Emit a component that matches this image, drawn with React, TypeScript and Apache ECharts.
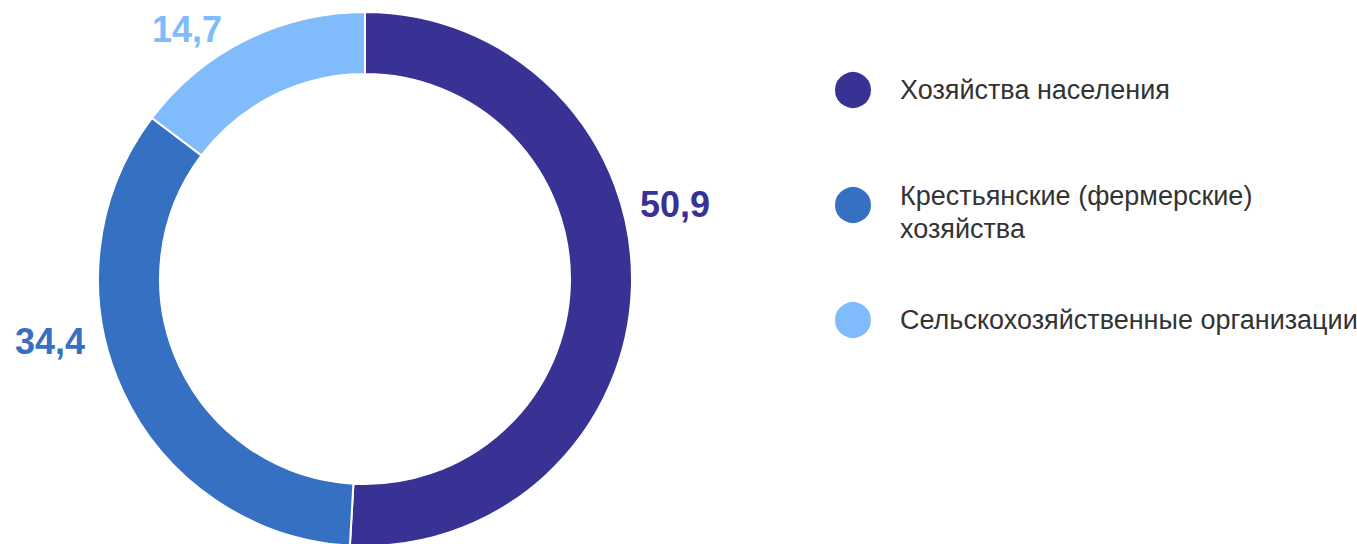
import React, { useEffect, useRef } from "react";
import * as echarts from "echarts";

const categories = [
  "Хозяйства населения",
  "Крестьянские (фермерские) хозяйства",
  "Сельскохозяйственные организации",
];
const values = [50.9, 34.4, 14.7];
const colors = ["#373294", "#3670C3", "#80BBFB"];
const labelPositions = [
  [675, 204],
  [50, 341],
  [187, 29],
];

const FONT = 'Arial, "Liberation Sans", sans-serif';

export default function App() {
  const ref = useRef<HTMLDivElement>(null);
  useEffect(() => {
    document.body.style.margin = "0";
    const chart = echarts.init(ref.current!, null, { renderer: "svg" });
    chart.setOption({
      animation: false,
      backgroundColor: "#ffffff",
      legend: {
        orient: "vertical",
        left: 833,
        top: 70,
        padding: 0,
        icon: "circle",
        itemWidth: 38,
        itemHeight: 38,
        itemGap: 55,
        selectedMode: false,
        data: categories,
        formatter: (name: string) =>
          name === categories[1]
            ? "{s| }\n{t|Крестьянские (фермерские)}\n{t|хозяйства}"
            : "{t|" + name + "}",
        textStyle: {
          fontFamily: FONT,
          fontSize: 27,
          lineHeight: 33,
          color: "#333333",
          padding: [0, 0, 0, 23],
          rich: {
            s: { fontSize: 2, lineHeight: 14 },
            t: {
              fontFamily: FONT,
              fontSize: 27,
              lineHeight: 33,
              color: "#333333",
            },
          },
        },
      },
      series: [
        {
          type: "pie",
          center: [365, 279],
          radius: [205, 267],
          startAngle: 90,
          clockwise: true,
          silent: true,
          itemStyle: { borderColor: "#ffffff", borderWidth: 2 },
          label: {
            show: true,
            position: "outside",
            overflow: "none",
            fontFamily: FONT,
            fontSize: 36,
            fontWeight: "bold",
            formatter: (p: any) => String(p.value).replace(".", ","),
          },
          labelLine: { show: false },
          labelLayout: (p: any) => ({
            x: labelPositions[p.dataIndex][0],
            y: labelPositions[p.dataIndex][1],
            align: "center",
            verticalAlign: "middle",
            width: 200,
          }),
          data: categories.map((c, i) => ({
            name: c,
            value: values[i],
            itemStyle: { color: colors[i] },
            label: { color: colors[i] },
          })),
        },
      ],
    });
    return () => chart.dispose();
  }, []);
  return <div ref={ref} style={{ width: 1357, height: 544 }} />;
}
